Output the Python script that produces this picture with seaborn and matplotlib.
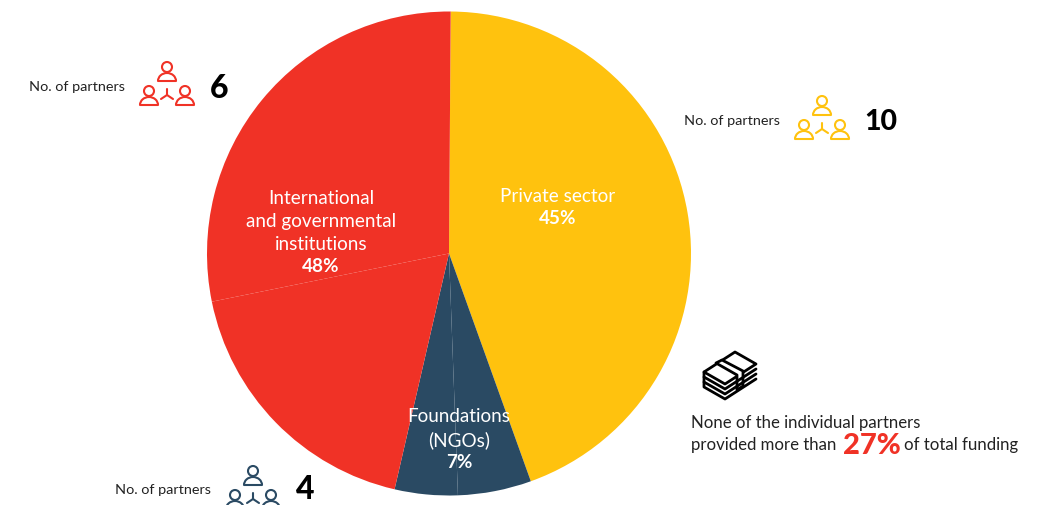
#!/usr/bin/env python3
# Funding share by partner type, pie with partner count callouts

import matplotlib
matplotlib.use('Agg')
import matplotlib.pyplot as plt
from matplotlib.patches import Arc, Circle, Polygon
import seaborn as sns

# Wedge shares as measured on the picture (clockwise from the top)
sectors = ['Private sector', 'Foundations a', 'Foundations b', 'Institutions a', 'Institutions b']
shares = [44.4, 4.9, 4.2, 18.2, 28.3]
colors = ['#FFC20E', '#2A4A63', '#2A4A63', '#F03226', '#F03226']

partner_label = 'No. of partners'
partner_counts = ['6', '10', '4']

sns.set_theme(style='white')
plt.rcParams['font.family'] = ['Lato', 'DejaVu Sans']

RED, YELLOW, NAVY = '#F03226', '#FFC20E', '#2A4A63'
TEXT = '#222222'

fig = plt.figure(figsize=(10.42, 5.06), dpi=100)

# Pie gets its own axes, exactly the circle's bounding box
ax_pie = fig.add_axes([207 / 1042, 9.5 / 506, 484 / 1042, 484 / 506])
ax_pie.pie(shares, colors=colors, startangle=89.6, counterclock=False, radius=1,
           wedgeprops={'linewidth': 0})
ax_pie.set_xlim(-1, 1)
ax_pie.set_ylim(-1, 1)

# Overlay in pixel coordinates for text and icons
ax = fig.add_axes([0, 0, 1, 1])
ax.set_xlim(0, 1042)
ax.set_ylim(506, 0)
ax.axis('off')


def person(x, y, color):
    ax.add_patch(Circle((x, y), 5, fill=False, ec=color, lw=1.5))
    ax.add_patch(Arc((x, y + 14), 18, 16, theta1=180, theta2=360, ec=color, lw=1.5))
    ax.plot([x - 9, x + 9], [y + 14, y + 14], color=color, lw=1.5, solid_capstyle='round')


def partners_icon(x, y, color):
    person(x, y, color)
    person(x - 18, y + 24, color)
    person(x + 18, y + 24, color)
    ax.plot([x, x], [y + 22, y + 28], color=color, lw=1.5)
    ax.plot([x - 6, x, x + 6], [y + 32, y + 28, y + 32], color=color, lw=1.5)


def callout(x_text, y_text, x_icon, y_icon, x_num, y_num, count, color, size=23):
    ax.text(x_text, y_text, partner_label, fontsize=10.4, color=TEXT, va='center', ha='left')
    partners_icon(x_icon, y_icon, color)
    ax.text(x_num, y_num, count, fontsize=size, fontweight='black', color='black', va='center', ha='left')


callout(29, 87, 167, 68, 210, 88, partner_counts[0], RED)
callout(684, 121, 822, 102, 864, 122, partner_counts[1], YELLOW, size=20.5)
callout(115, 490, 253, 472, 296, 490, partner_counts[2], NAVY)

# Labels inside the wedges
label_kw = dict(color='white', ha='center', va='center', fontsize=13.6)
ax.text(558, 196, 'Private sector', **label_kw)
ax.text(558, 219, '45%', fontweight='bold', **label_kw)
for y, line in zip([198, 221, 244], ['International', 'and governmental', 'institutions']):
    ax.text(321, y, line, **label_kw)
ax.text(321, 267, '48%', fontweight='bold', **label_kw)
ax.text(459, 417, 'Foundations', **label_kw)
ax.text(459, 440, '(NGOs)', **label_kw)
ax.text(459, 463, '7%', fontweight='bold', **label_kw)

# Bills icon
top = [(735, 353), (756, 365), (725, 385), (704, 373)]
ax.add_patch(Polygon(top, closed=True, fill=False, ec='black', lw=2, joinstyle='round'))
for dy in [5, 10, 15]:
    ax.plot([704, 704, 725, 756], [373 + dy - 5, 373 + dy, 385 + dy, 365 + dy],
            color='black', lw=2, solid_joinstyle='round')
ax.add_patch(Polygon([(716, 364), (722, 361), (743, 372), (743, 387), (737, 391), (737, 376)],
                     closed=True, fc='white', ec='black', lw=2, joinstyle='round'))

# Funding note
note_kw = dict(fontsize=12.1, color=TEXT, va='center', ha='left')
ax.text(691, 423, 'None of the individual partners', **note_kw)
ax.text(691, 445, 'provided more than', **note_kw)
ax.text(843, 446, '27%', fontsize=21, fontweight='black', color=RED, va='center', ha='left')
ax.text(904, 445, 'of total funding', **note_kw)

fig.savefig('out.png', dpi=100)
